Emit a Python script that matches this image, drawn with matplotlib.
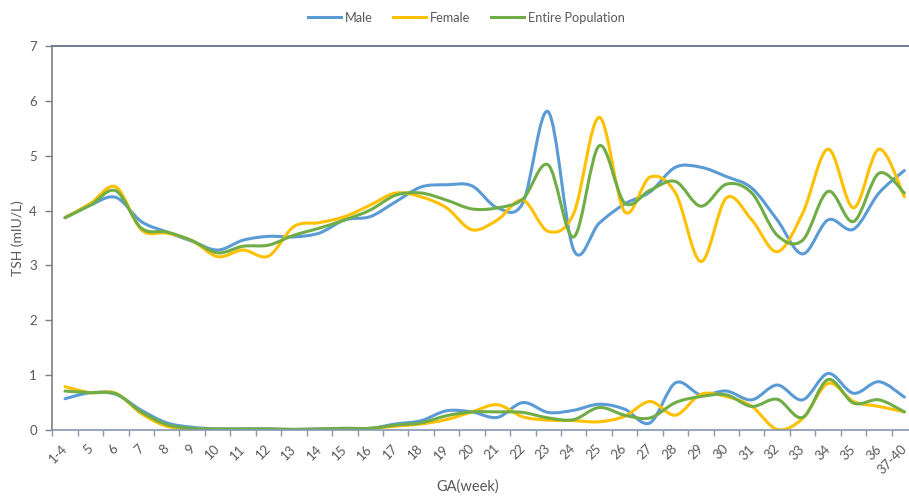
import matplotlib
matplotlib.use("Agg")
import matplotlib.pyplot as plt
from matplotlib.path import Path
from matplotlib.patches import PathPatch
from matplotlib.lines import Line2D
import matplotlib.transforms as mtransforms
import numpy as np

plt.rcParams['font.family'] = ['Lato', 'DejaVu Sans']

categories = ["1-4"] + [str(i) for i in range(5, 37)] + ["37-40"]

male_upper = [3.87, 4.10, 4.24, 3.80, 3.61, 3.44, 3.28, 3.46, 3.53, 3.52, 3.59,
              3.83, 3.89, 4.16, 4.43, 4.47, 4.45, 4.05, 4.14, 5.80, 3.28, 3.77,
              4.12, 4.34, 4.79, 4.79, 4.62, 4.41, 3.83, 3.21, 3.83, 3.66, 4.32, 4.73]
female_upper = [3.87, 4.13, 4.43, 3.65, 3.59, 3.45, 3.16, 3.28, 3.17, 3.71, 3.78,
                3.89, 4.10, 4.32, 4.25, 4.05, 3.65, 3.83, 4.19, 3.62, 3.95, 5.70,
                3.98, 4.61, 4.32, 3.07, 4.23, 3.83, 3.25, 3.95, 5.12, 4.05, 5.12, 4.25]
entire_upper = [3.87, 4.10, 4.36, 3.68, 3.61, 3.45, 3.23, 3.35, 3.37, 3.55, 3.68,
                3.83, 4.01, 4.28, 4.32, 4.19, 4.03, 4.05, 4.21, 4.83, 3.52, 5.18,
                4.14, 4.37, 4.53, 4.08, 4.48, 4.32, 3.55, 3.46, 4.35, 3.80, 4.68, 4.32]

male_lower = [0.57, 0.68, 0.65, 0.36, 0.13, 0.05, 0.02, 0.02, 0.02, 0.01, 0.02,
              0.03, 0.03, 0.11, 0.17, 0.35, 0.33, 0.23, 0.50, 0.32, 0.36, 0.47,
              0.38, 0.13, 0.86, 0.64, 0.71, 0.55, 0.82, 0.55, 1.03, 0.67, 0.88, 0.60]
female_lower = [0.79, 0.68, 0.67, 0.30, 0.07, 0.02, 0.01, 0.01, 0.01, 0.01, 0.01,
                0.02, 0.03, 0.07, 0.11, 0.19, 0.33, 0.46, 0.24, 0.18, 0.17, 0.15,
                0.25, 0.52, 0.27, 0.65, 0.61, 0.43, 0.01, 0.21, 0.85, 0.52, 0.43, 0.33]
entire_lower = [0.71, 0.68, 0.66, 0.33, 0.10, 0.03, 0.02, 0.02, 0.02, 0.01, 0.02,
                0.03, 0.03, 0.09, 0.13, 0.26, 0.33, 0.33, 0.32, 0.22, 0.19, 0.41,
                0.27, 0.22, 0.50, 0.61, 0.64, 0.43, 0.56, 0.23, 0.92, 0.49, 0.55, 0.33]

series_names = ["Male", "Female", "Entire Population"]
colors = ["#5B9BD5", "#FFC000", "#70AD47"]
yticks = [0, 1, 2, 3, 4, 5, 6, 7]

W, H = 909, 497
fig = plt.figure(figsize=(W / 100, H / 100), dpi=100)
left_px, right_px = 52.3, 917.1
y0_px, y7_px = 430, 46
ax = fig.add_axes([left_px / W, (H - y0_px) / H, (right_px - left_px) / W, (y0_px - y7_px) / H])

x = np.arange(len(categories))


def smooth_path(xs, ys):
    pts = np.column_stack([xs, ys]).astype(float)
    n = len(pts)
    verts = [pts[0]]
    codes = [Path.MOVETO]
    for i in range(n - 1):
        p0 = pts[i - 1] if i > 0 else pts[i]
        p1 = pts[i]
        p2 = pts[i + 1]
        p3 = pts[i + 2] if i + 2 < n else pts[i + 1]
        c1 = p1 + (p2 - p0) / 6.0
        c2 = p2 - (p3 - p1) / 6.0
        verts += [c1, c2, p2]
        codes += [Path.CURVE4] * 3
    return Path(verts, codes)


lw = 2.2
for ys_up, ys_low, c in zip([male_upper, female_upper, entire_upper],
                            [male_lower, female_lower, entire_lower], colors):
    for ys in (ys_up, ys_low):
        patch = PathPatch(smooth_path(x, ys), facecolor='none', edgecolor=c,
                          lw=lw, capstyle='round', joinstyle='round')
        ax.add_patch(patch)

ax.set_xlim(-0.5, len(categories) - 0.5)
ax.set_ylim(0, 7)

ax.set_yticks(yticks)
ax.set_yticklabels([str(v) for v in yticks])
ax.set_xticks(x)
ax.set_xticklabels(categories, rotation=45, ha='right', rotation_mode='anchor')
ax.set_xticks(np.arange(len(categories) + 1) - 0.5, minor=True)

label_color = '#595959'
ax.tick_params(axis='x', which='major', length=0, pad=9, labelsize=9.5, labelcolor=label_color)
ax.tick_params(axis='x', which='minor', length=4, width=1.0, color='#8497B0', direction='out')
ax.tick_params(axis='y', which='major', length=5, width=1.0, color='#7F7F7F',
               labelsize=9.5, labelcolor=label_color, pad=6)

offset = mtransforms.ScaledTranslation(-4 / 100, 0, fig.dpi_scale_trans)
for lbl in ax.get_xticklabels():
    lbl.set_transform(lbl.get_transform() + offset)

ax.spines['right'].set_visible(False)
ax.spines['left'].set_color('#7F7F7F')
ax.spines['left'].set_linewidth(1.2)
ax.spines['bottom'].set_color('#8497B0')
ax.spines['bottom'].set_linewidth(1.2)
ax.spines['top'].set_color('#6F7C93')
ax.spines['top'].set_linewidth(1.4)

fig.text(18 / W, 1 - 238 / H, "TSH (mIU/L)", rotation=90, fontsize=10,
         color=label_color, ha='center', va='center')
fig.text(468 / W, 1 - 487 / H, "GA(week)", fontsize=10.5,
         color=label_color, ha='center', va='center')

handles = [Line2D([0], [0], color=c, lw=lw) for c in colors]
fig.legend(handles, series_names, loc='upper center', bbox_to_anchor=(0.513, 1.0),
           ncol=3, frameon=False, fontsize=9.2, labelcolor=label_color,
           handlelength=2.6, handletextpad=0.3, columnspacing=1.6)

fig.savefig("out.png", dpi=100)
